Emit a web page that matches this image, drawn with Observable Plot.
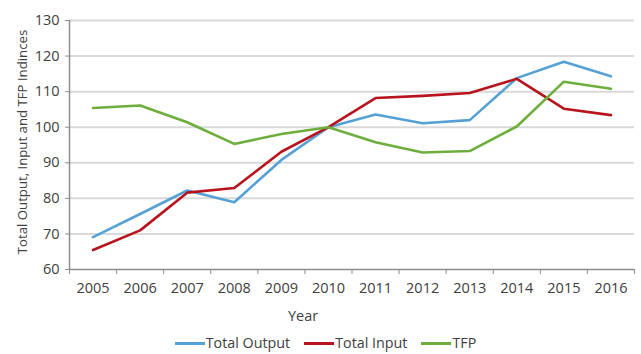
<!DOCTYPE html>
<html>
<head>
<meta charset="utf-8">
<script src="https://cdn.jsdelivr.net/npm/d3@7"></script>
<script src="https://cdn.jsdelivr.net/npm/@observablehq/plot@0.6"></script>
<style>
  body { margin: 0; background: #fff; font-family: "Open Sans", sans-serif; }
  #chart { position: relative; width: 641px; height: 354px; overflow: hidden; }
  #chart svg { position: absolute; left: 0; top: 0; }
  .legend { position: absolute; left: 0; top: 333px; width: 641px; height: 20px;
            display: flex; justify-content: center; align-items: center; line-height: 18px;
            font-size: 14.3px; color: #404040; padding-left: 10px; box-sizing: border-box; }
  .legend .item { display: flex; align-items: center; margin: 0 7px; }
  .legend .sw { display: inline-block; width: 30px; height: 3px; margin-right: 1px; }
</style>
</head>
<body>
<div id="chart"></div>
<script>
// Index values (2010 = 100)
const years = [2005, 2006, 2007, 2008, 2009, 2010, 2011, 2012, 2013, 2014, 2015, 2016];
const totalOutput = [69.1, 75.6, 82.2, 78.9, 90.8, 100, 103.6, 101.1, 102.0, 113.8, 118.4, 114.3];
const totalInput  = [65.5, 71.0, 81.6, 82.9, 93.1, 100, 108.2, 108.8, 109.6, 113.6, 105.2, 103.4];
const tfp         = [105.4, 106.1, 101.4, 95.3, 98.1, 100, 95.8, 92.9, 93.3, 100.2, 112.8, 110.8];
const seriesNames = ["Total Output", "Total Input", "TFP"];
const yTicks = [60, 70, 80, 90, 100, 110, 120, 130];

const palette = ["#55a1d6", "#b8141e", "#6dae3c"];
const seriesValues = [totalOutput, totalInput, tfp];

const rows = seriesNames.flatMap((name, i) =>
  years.map((year, j) => ({series: name, year, value: seriesValues[i][j]}))
);
// category boundaries between years, for the x-axis tick marks
const bounds = d3.range(years.length + 1).map(i => years[0] - 0.5 + i);

const textColor = "#404040";

const chart = Plot.plot({
  width: 641,
  height: 332,
  marginLeft: 69,
  marginRight: 7,
  marginTop: 20,
  marginBottom: 63,
  style: {fontFamily: "'Open Sans', sans-serif", color: textColor, background: "transparent"},
  x: {domain: [bounds[0], bounds[bounds.length - 1]]},
  y: {domain: [yTicks[0], yTicks[yTicks.length - 1]]},
  color: {domain: seriesNames, range: palette},
  marks: [
    Plot.gridY(yTicks.slice(1), {stroke: "#d9d9d9", strokeOpacity: 1, strokeWidth: 2}),
    Plot.ruleY([yTicks[0]], {stroke: "#8c8c8c", strokeWidth: 1.5}),
    Plot.ruleX([bounds[0]], {stroke: "#8c8c8c", strokeWidth: 1.5}),
    Plot.axisY(yTicks, {tickSize: 4, tickPadding: 6, fontSize: 14.5, label: null,
                        stroke: "#8c8c8c", fill: textColor}),
    Plot.axisX(bounds, {tickSize: 5, tickFormat: () => "", label: null, stroke: "#8c8c8c"}),
    Plot.axisX(years, {tickSize: 0, tickPadding: 13, tickFormat: d => String(d),
                       fontSize: 14.5, label: null, fill: textColor}),
    Plot.line(rows, {x: "year", y: "value", z: "series", stroke: "series",
                     strokeWidth: 2.6, strokeLinejoin: "round", strokeLinecap: "round"}),
    Plot.text(["Year"], {frameAnchor: "bottom", dx: -49, dy: 51, fontSize: 14.5, fill: textColor}),
    Plot.text(["Total Output, Input and TFP Indinces"],
              {frameAnchor: "left", textAnchor: "middle", rotate: -90, dx: -47, dy: -3,
               fontSize: 13.2, fill: textColor})
  ]
});

const root = document.getElementById("chart");
root.appendChild(chart);

const legend = document.createElement("div");
legend.className = "legend";
seriesNames.forEach((name, i) => {
  const item = document.createElement("span");
  item.className = "item";
  const sw = document.createElement("span");
  sw.className = "sw";
  sw.style.background = palette[i];
  const label = document.createElement("span");
  label.textContent = name;
  item.appendChild(sw);
  item.appendChild(label);
  legend.appendChild(item);
});
root.appendChild(legend);
</script>
</body>
</html>
